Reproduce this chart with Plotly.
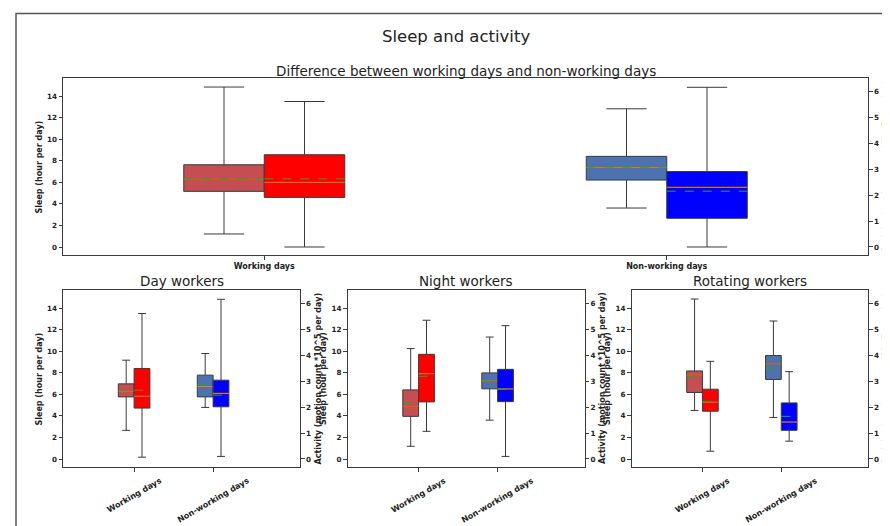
import plotly.graph_objects as go

# ---------------- data ----------------
categories = ["Working days", "Non-working days"]
panel_titles = ["Difference between working days and non-working days",
                "Day workers", "Night workers", "Rotating workers"]
main_title = "Sleep and activity"
sleep_label = "Sleep (hour per day)"
act_label = "Activity (motion count *10^5 per day)"

# Sleep (hour per day); rows = panels (all, day, night, rotating); cols = [working, non-working]
sleep_low = [[1.21, 3.62], [2.66, 4.79], [1.18, 3.61], [4.51, 3.86]]
sleep_q1 = [[5.17, 6.22], [5.77, 5.77], [3.96, 6.52], [6.18, 7.39]]
sleep_median = [[6.32, 7.40], [6.30, 6.74], [4.91, 7.26], [7.81, 8.83]]
sleep_mean = [[6.36, 7.42], [6.37, 6.92], [5.25, 7.22], [7.60, 8.43]]
sleep_q3 = [[7.64, 8.42], [6.98, 7.79], [6.42, 8.00], [8.18, 9.61]]
sleep_high = [[14.86, 12.84], [9.18, 9.80], [10.26, 11.33], [14.86, 12.82]]

# Activity (motion count *10^5 per day)
act_low = [[0.0, 0.0], [0.07, 0.10], [1.07, 0.10], [0.30, 0.69]]
act_q1 = [[1.92, 1.11], [1.97, 2.02], [2.21, 2.22], [1.85, 1.11]]
act_median = [[2.50, 2.31], [2.43, 2.54], [3.30, 2.71], [2.20, 1.43]]
act_mean = [[2.64, 2.16], [2.66, 2.47], [3.20, 2.69], [2.23, 1.65]]
act_q3 = [[3.57, 2.92], [3.50, 3.05], [4.05, 3.47], [2.70, 2.17]]
act_high = [[5.63, 6.18], [5.63, 6.18], [5.37, 5.16], [3.78, 3.38]]

sleep_ticks = [0, 2, 4, 6, 8, 10, 12, 14]
act_ticks = [0, 1, 2, 3, 4, 5, 6]

# ---------------- styling / layout constants ----------------
W, H = 890, 526
FONT = "DejaVu Sans"
TXT = "#222222"
EDGE = "#3a3a3a"
SLEEP_COLORS = ["#C44E52", "#4C72B0"]
ACT_COLORS = ["#FF0000", "#0000FF"]
MEDIAN_COLOR = "#FF7F0E"
MEAN_COLOR = "#2CA02C"
BOX_W = 0.2
OFFSET = 0.1

def px_x(v):
    return v / W

def px_y(v):
    return 1 - v / H

AX_LEFT = [55, 55, 339.5, 623.5]
AX_RIGHT = [860, 292, 576.5, 860]
AX_TOP = [70, 282, 282, 282]
AX_BOTTOM = [247, 459, 459, 459]
X_RANGES = [[-0.5, 1.5]] + [[-0.9, 2.1]] * 3
SLEEP_RANGE = [-0.743, 15.70]
ACT_RANGE = [-0.31, 6.54]

fig = go.Figure()
layout = dict(
    width=W, height=H, margin=dict(l=0, r=0, t=0, b=0),
    template="none", showlegend=False,
    paper_bgcolor="white", plot_bgcolor="white",
    font=dict(family=FONT, color=TXT),
)

xtick_font = dict(family=FONT, size=8, color=TXT, weight="bold")
ytick_font = dict(family=FONT, size=7.2, color=TXT, weight="bold")
title_font = dict(family=FONT, size=8, color=TXT, weight="bold")

def add_box(xref, yref, pos, lo, q1, med, mean, q3, hi, color):
    fig.add_trace(go.Box(
        x=[pos], q1=[q1], median=[med], q3=[q3], lowerfence=[lo], upperfence=[hi],
        width=BOX_W, whiskerwidth=0.5, fillcolor=color,
        line=dict(color=EDGE, width=1), boxpoints=False,
        xaxis=xref, yaxis=yref, hoverinfo="skip",
    ))
    fig.add_trace(go.Scatter(
        x=[pos - BOX_W / 2, pos + BOX_W / 2], y=[med, med], mode="lines",
        line=dict(color=MEDIAN_COLOR, width=1), xaxis=xref, yaxis=yref, hoverinfo="skip"))
    fig.add_trace(go.Scatter(
        x=[pos - BOX_W / 2, pos + BOX_W / 2], y=[mean, mean], mode="lines",
        line=dict(color=MEAN_COLOR, width=1, dash="dash"), xaxis=xref, yaxis=yref,
        hoverinfo="skip"))

annotations = []
for i in range(4):
    xname = "xaxis" if i == 0 else f"xaxis{i + 1}"
    xref = "x" if i == 0 else f"x{i + 1}"
    ly, ry = 2 * i + 1, 2 * i + 2
    yl_name = "yaxis" if ly == 1 else f"yaxis{ly}"
    yl_ref = "y" if ly == 1 else f"y{ly}"
    yr_name, yr_ref = f"yaxis{ry}", f"y{ry}"
    xdom = [px_x(AX_LEFT[i]), px_x(AX_RIGHT[i])]
    ydom = [px_y(AX_BOTTOM[i]), px_y(AX_TOP[i])]

    layout[xname] = dict(
        domain=xdom, range=X_RANGES[i], anchor=yl_ref,
        tickvals=[0, 1], ticktext=categories, showticklabels=(i == 0),
        showline=True, mirror=True, linecolor=EDGE, linewidth=1,
        ticks="outside", ticklen=3.5, tickwidth=1, tickcolor=EDGE,
        tickfont=xtick_font, showgrid=False, zeroline=False, automargin=False,
    )
    layout[yl_name] = dict(
        domain=ydom, range=SLEEP_RANGE, anchor=xref,
        tickvals=sleep_ticks, showline=True, linecolor=EDGE, linewidth=1,
        ticks="outside", ticklen=3.5, tickwidth=1, tickcolor=EDGE,
        tickfont=ytick_font, showgrid=False, zeroline=False, automargin=False,
    )
    layout[yr_name] = dict(
        overlaying=yl_ref, side="right", range=ACT_RANGE, anchor=xref,
        tickvals=act_ticks, showline=True, linecolor=EDGE, linewidth=1,
        ticks="outside", ticklen=3.5, tickwidth=1, tickcolor=EDGE,
        tickfont=ytick_font, showgrid=False, zeroline=False, automargin=False,
    )

    for c in range(2):
        add_box(xref, yl_ref, c - OFFSET, sleep_low[i][c], sleep_q1[i][c], sleep_median[i][c],
                sleep_mean[i][c], sleep_q3[i][c], sleep_high[i][c], SLEEP_COLORS[c])
        add_box(xref, yr_ref, c + OFFSET, act_low[i][c], act_q1[i][c], act_median[i][c],
                act_mean[i][c], act_q3[i][c], act_high[i][c], ACT_COLORS[c])
        if i > 0:
            # rotated category labels, centred under the tick like matplotlib
            annotations.append(dict(
                text=categories[c], x=c, xref=xref, y=px_y(466), yref="paper",
                xanchor="center", yanchor="top", textangle=-30, showarrow=False,
                font=xtick_font))

    ymid = px_y((AX_TOP[i] + AX_BOTTOM[i]) / 2)
    annotations.append(dict(text=sleep_label, x=px_x(AX_LEFT[i] - 24), y=ymid,
                            xref="paper", yref="paper", xanchor="center", yanchor="middle",
                            textangle=-90, showarrow=False, font=title_font))
    annotations.append(dict(text=act_label, x=px_x(AX_RIGHT[i] + 18), y=ymid,
                            xref="paper", yref="paper", xanchor="center", yanchor="middle",
                            textangle=-90, showarrow=False, font=title_font))

    cx = px_x((AX_LEFT[i] + AX_RIGHT[i]) / 2)
    cy = px_y(63) if i == 0 else px_y(273)
    annotations.append(dict(text=panel_titles[i], x=cx, y=cy, xref="paper", yref="paper",
                            xanchor="center", yanchor="middle", showarrow=False,
                            font=dict(family=FONT, size=13.5, color=TXT)))

annotations.append(dict(text=main_title, x=px_x(448), y=px_y(28), xref="paper",
                        yref="paper", xanchor="center", yanchor="middle", showarrow=False,
                        font=dict(family=FONT, size=16.5, color=TXT)))
layout["annotations"] = annotations
layout["shapes"] = [dict(type="rect", xref="paper", yref="paper",
                         x0=px_x(8), x1=1.05, y0=-0.05, y1=px_y(5.5),
                         line=dict(color="#555555", width=1.5), fillcolor="rgba(0,0,0,0)",
                         layer="below")]
fig.update_layout(**layout)
fig.write_html("out.html")
